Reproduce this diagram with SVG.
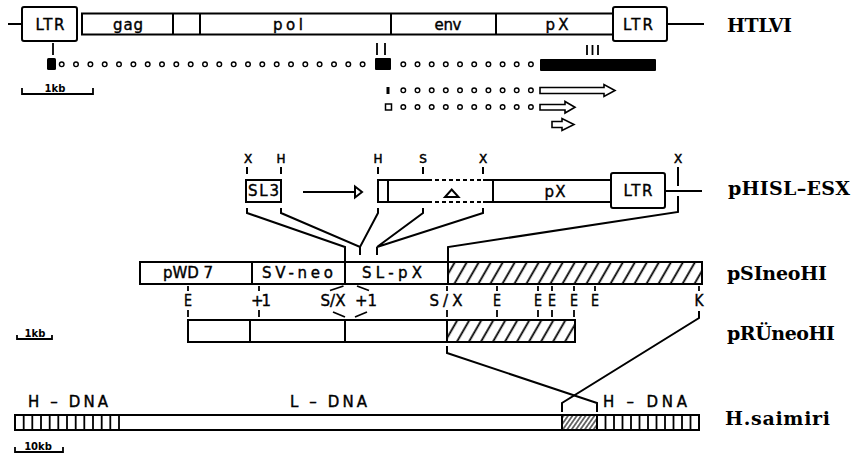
<svg xmlns="http://www.w3.org/2000/svg" width="854" height="457" viewBox="0 0 854 457">
<defs>
<pattern id="hatch" patternUnits="userSpaceOnUse" width="10.4" height="10" patternTransform="rotate(30)"><line x1="5" y1="-1" x2="5" y2="11" stroke="#000" stroke-width="1.8"/></pattern>
<pattern id="hatchFine" patternUnits="userSpaceOnUse" width="3.6" height="10" patternTransform="rotate(35)"><line x1="1.8" y1="-1" x2="1.8" y2="11" stroke="#000" stroke-width="1.1"/></pattern>
</defs>
<style>
.b{fill:#fff;stroke:#000;stroke-width:2}
.l{fill:none;stroke:#000;stroke-width:2}
.k{fill:none;stroke:#000;stroke-width:1.8}
.d{fill:none;stroke:#000;stroke-width:2;stroke-dasharray:4 3}
.c{fill:#fff;stroke:#000;stroke-width:1.4}
.f{fill:#000}
.t{font-family:"DejaVu Sans",sans-serif;font-size:15px;fill:#000;stroke:#000;stroke-width:0.4;text-anchor:middle}
.m{font-family:"DejaVu Sans",sans-serif;font-size:12px;fill:#000;stroke:#000;stroke-width:0.5;text-anchor:middle}
.e{font-family:"DejaVu Sans",sans-serif;font-size:15px;fill:#000;stroke:#000;stroke-width:0.4;text-anchor:middle}
.s{font-family:"DejaVu Sans",sans-serif;font-size:10px;font-weight:bold;fill:#000;text-anchor:middle}
.n{font-family:"DejaVu Serif",serif;font-weight:bold;font-size:19px;fill:#000}
</style>
<rect width="854" height="457" fill="#fff"/>

<g id="HTLVI">
<line x1="8" y1="24" x2="22" y2="24" class="l"/>
<rect x="82" y="13.5" width="531" height="21" class="b"/>
<path d="M173,13.5V34.5M200,13.5V34.5M391,13.5V34.5M496,13.5V34.5" class="l"/>
<rect x="22" y="7" width="55" height="34" rx="2" class="b"/>
<rect x="613" y="7" width="54" height="34" rx="2" class="b"/>
<line x1="667" y1="24" x2="704" y2="24" class="l"/>
<text x="50" y="30" class="t" textLength="29">LTR</text>
<text x="128" y="30" class="t" textLength="30">gag</text>
<text x="288" y="30" class="t" textLength="30">pol</text>
<text x="448" y="30" class="t" textLength="27">env</text>
<text x="557" y="30" class="t" textLength="23">pX</text>
<text x="638" y="30" class="t" textLength="30">LTR</text>
<text x="727" y="32" class="n" textLength="65">HTLVI</text>
</g>

<g id="transcripts">
<path d="M53,43V55M377,43V55M385,43V55M587,45V55M592.5,45V55M598,45V55" class="k"/>
<rect x="47" y="58" width="9" height="12" rx="1.5" class="f"/>
<rect x="375" y="58" width="16" height="12" rx="1" class="f"/>
<rect x="540" y="59" width="116" height="12" rx="1" class="f"/>
<g class="c">
<circle cx="61.7" cy="64.3" r="2.3"/><circle cx="76" cy="64.3" r="2.3"/><circle cx="90.4" cy="64.3" r="2.3"/><circle cx="104.7" cy="64.3" r="2.3"/><circle cx="119" cy="64.3" r="2.3"/><circle cx="133.4" cy="64.3" r="2.3"/><circle cx="147.7" cy="64.3" r="2.3"/><circle cx="162" cy="64.3" r="2.3"/><circle cx="176.3" cy="64.3" r="2.3"/><circle cx="190.7" cy="64.3" r="2.3"/><circle cx="205" cy="64.3" r="2.3"/><circle cx="219.3" cy="64.3" r="2.3"/><circle cx="233.7" cy="64.3" r="2.3"/><circle cx="248" cy="64.3" r="2.3"/><circle cx="262.3" cy="64.3" r="2.3"/><circle cx="276.7" cy="64.3" r="2.3"/><circle cx="291" cy="64.3" r="2.3"/><circle cx="305.3" cy="64.3" r="2.3"/><circle cx="319.6" cy="64.3" r="2.3"/><circle cx="334" cy="64.3" r="2.3"/><circle cx="348.3" cy="64.3" r="2.3"/><circle cx="362.6" cy="64.3" r="2.3"/>
<circle cx="403.3" cy="64.3" r="2.3"/><circle cx="417.5" cy="64.3" r="2.3"/><circle cx="431.7" cy="64.3" r="2.3"/><circle cx="445.8" cy="64.3" r="2.3"/><circle cx="460" cy="64.3" r="2.3"/><circle cx="474.2" cy="64.3" r="2.3"/><circle cx="488.4" cy="64.3" r="2.3"/><circle cx="502.6" cy="64.3" r="2.3"/><circle cx="516.7" cy="64.3" r="2.3"/><circle cx="530.9" cy="64.3" r="2.3"/>
<circle cx="403.3" cy="90.3" r="2.3"/><circle cx="417.5" cy="90.3" r="2.3"/><circle cx="431.7" cy="90.3" r="2.3"/><circle cx="445.8" cy="90.3" r="2.3"/><circle cx="460" cy="90.3" r="2.3"/><circle cx="474.2" cy="90.3" r="2.3"/><circle cx="488.4" cy="90.3" r="2.3"/><circle cx="502.6" cy="90.3" r="2.3"/><circle cx="516.7" cy="90.3" r="2.3"/><circle cx="530.9" cy="90.3" r="2.3"/>
<circle cx="403.3" cy="107" r="2.3"/><circle cx="417.5" cy="107" r="2.3"/><circle cx="431.7" cy="107" r="2.3"/><circle cx="445.8" cy="107" r="2.3"/><circle cx="460" cy="107" r="2.3"/><circle cx="474.2" cy="107" r="2.3"/><circle cx="488.4" cy="107" r="2.3"/><circle cx="502.6" cy="107" r="2.3"/><circle cx="516.7" cy="107" r="2.3"/><circle cx="530.9" cy="107" r="2.3"/>
</g>
<rect x="386.5" y="87" width="3" height="7" class="f"/>
<rect x="385.5" y="104" width="6" height="6" fill="#fff" stroke="#000" stroke-width="1.5"/>
<path d="M540,87.5H604V84.5L615,90.5L604,96.5V93.5H540Z" fill="#fff" stroke="#000" stroke-width="1.6"/>
<path d="M540,104.5H565V101.5L575,107.3L565,113V110H540Z" fill="#fff" stroke="#000" stroke-width="1.6"/>
<path d="M552,121.5H562V118.5L574,124.5L562,130.5V127.5H552Z" fill="#fff" stroke="#000" stroke-width="1.6"/>
</g>

<g id="pHISL-ESX">
<text x="248" y="163" class="m">X</text>
<text x="281" y="163" class="m">H</text>
<text x="378" y="163" class="m">H</text>
<text x="423" y="163" class="m">S</text>
<text x="483" y="163" class="m">X</text>
<text x="678" y="163" class="m">X</text>
<path d="M247,167V174M281,167V174M378,167V174M423,167V174M483,167V174M678,167V186" class="l"/>
<rect x="246" y="180" width="35" height="22" class="b"/>
<text x="263.5" y="196" class="t" textLength="31">SL3</text>
<line x1="303" y1="192" x2="355" y2="192" class="l"/>
<polygon points="355,186.5 362,192 355,197.5" fill="#fff" stroke="#000" stroke-width="2"/>
<rect x="378" y="180" width="10" height="22" class="b"/>
<path d="M388,180H428M483,180H611M388,202H428M483,202H611M493,180V202" class="l"/>
<path d="M428,180H483M428,202H483" class="d"/>
<polygon points="445,197 458.5,197 451.7,189.5" fill="none" stroke="#000" stroke-width="2"/>
<text x="555" y="197" class="t" textLength="21">pX</text>
<rect x="611" y="173" width="54" height="35" rx="2" class="b"/>
<text x="638" y="196" class="t" textLength="29">LTR</text>
<line x1="665" y1="191" x2="702" y2="191" class="l"/>
<text x="728" y="195" class="n" textLength="122">pHISL–ESX</text>
</g>

<g id="pSIneoHI">
<rect x="140" y="262" width="562" height="22" class="b"/>
<rect x="448" y="262" width="254" height="22" fill="url(#hatch)" stroke="#000" stroke-width="2"/>
<path d="M252,262V284M345,262V284" class="l"/>
<text x="188" y="278" class="t" textLength="50">pWD 7</text>
<text x="297.5" y="278" class="t" textLength="71">SV-neo</text>
<text x="392" y="278" class="t" textLength="60">SL-pX</text>
<text x="727" y="280" class="n" textLength="100">pSIneoHI</text>
</g>

<g id="sites">
<path d="M188,286V291M259,286V291M447,286V291M497,286V291M538,286V291M552,286V291M574,286V291M595,286V291M699,286V291" class="k"/>
<path d="M188,310V317M259,310V317M447,310V317M497,310V317M538,310V317M552,310V317M574,310V317" class="k"/>
<path d="M330,290.5L343.5,286M357,286L369,290.5M333,312L345,317M355,317L367,312" class="k"/>
<text x="188" y="306" class="e" textLength="8" lengthAdjust="spacingAndGlyphs">E</text>
<text x="261" y="306" class="e" textLength="20">+1</text>
<text x="333" y="306" class="e" textLength="25" lengthAdjust="spacingAndGlyphs">S/X</text>
<text x="366" y="306" class="e" textLength="22">+1</text>
<text x="446" y="306" class="e" textLength="33">S/X</text>
<text x="497" y="306" class="e" textLength="8" lengthAdjust="spacingAndGlyphs">E</text>
<text x="538" y="306" class="e" textLength="8" lengthAdjust="spacingAndGlyphs">E</text>
<text x="552" y="306" class="e" textLength="8" lengthAdjust="spacingAndGlyphs">E</text>
<text x="574" y="306" class="e" textLength="8" lengthAdjust="spacingAndGlyphs">E</text>
<text x="595" y="306" class="e" textLength="8" lengthAdjust="spacingAndGlyphs">E</text>
<text x="699" y="306" class="e" textLength="9" lengthAdjust="spacingAndGlyphs">K</text>
</g>

<g id="pRUneoHI">
<rect x="188" y="320" width="387" height="22" class="b"/>
<rect x="447" y="320" width="128" height="22" fill="url(#hatch)" stroke="#000" stroke-width="2"/>
<path d="M250,320V342M345,320V342" class="l"/>
<text x="727" y="340" class="n" textLength="108">pRÜneoHI</text>
</g>

<g id="H.saimiri">
<text x="68" y="407" class="t" textLength="80">H – DNA</text>
<text x="328.5" y="407" class="t" textLength="77">L – DNA</text>
<text x="645" y="407" class="t" textLength="84">H – DNA</text>
<rect x="15" y="415" width="684" height="15" class="b"/>
<rect x="562" y="415" width="35" height="15" fill="url(#hatchFine)" stroke="#000" stroke-width="2"/>
<path d="M23.7,415V430M32.3,415V430M41,415V430M49.7,415V430M58.3,415V430M67,415V430M75.7,415V430M84.3,415V430M93,415V430M101.7,415V430M110.3,415V430M119,415V430" class="k" stroke-width="1.5"/>
<path d="M605.5,415V430M614,415V430M622.5,415V430M631,415V430M639.5,415V430M648,415V430M656.5,415V430M665,415V430M673.5,415V430M682,415V430M690.5,415V430" class="k" stroke-width="1.5"/>
<text x="725" y="425" class="n" textLength="105">H.saimiri</text>
</g>

<g id="scales">
<path d="M22,88V94H93V88" class="k" stroke-width="1.5"/>
<text x="55" y="92" class="s">1kb</text>
<path d="M17,335V339H52V335" class="k" stroke-width="1.5"/>
<text x="35" y="337" class="s" font-size="9">1kb</text>
<path d="M15,447V452H63V447" class="k" stroke-width="1.5"/>
<text x="38" y="450" class="s" font-size="9">10kb</text>
</g>

<g id="connectors" class="l">
<path d="M247,208V213L345,247V262"/>
<path d="M281,208V213L360,247L378,213V208M360,247V255"/>
<path d="M423,208V213L377,247L483,213V208M377,247V255"/>
<path d="M678,196V212L448,247V262"/>
<path d="M699,311V318L562,403V412"/>
<path d="M447,346V353L597,403V412"/>
</g>
</svg>
